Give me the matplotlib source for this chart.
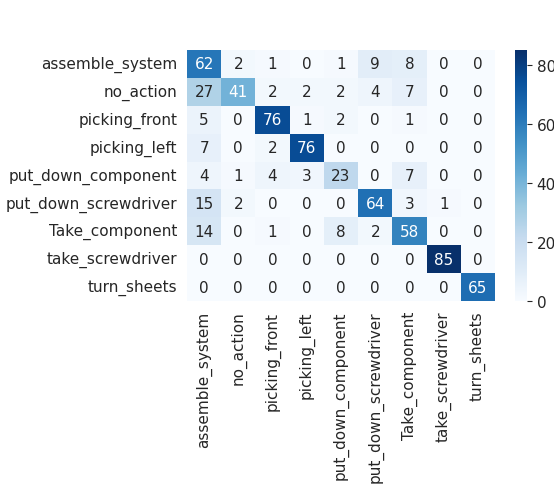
import matplotlib
matplotlib.use("Agg")
import matplotlib.pyplot as plt
import numpy as np
import seaborn as sns

labels = ["assemble_system", "no_action", "picking_front", "picking_left",
          "put_down_component", "put_down_screwdriver", "Take_component",
          "take_screwdriver", "turn_sheets"]

row_assemble_system = [62, 2, 1, 0, 1, 9, 8, 0, 0]
row_no_action = [27, 41, 2, 2, 2, 4, 7, 0, 0]
row_picking_front = [5, 0, 76, 1, 2, 0, 1, 0, 0]
row_picking_left = [7, 0, 2, 76, 0, 0, 0, 0, 0]
row_put_down_component = [4, 1, 4, 3, 23, 0, 7, 0, 0]
row_put_down_screwdriver = [15, 2, 0, 0, 0, 64, 3, 1, 0]
row_take_component = [14, 0, 1, 0, 8, 2, 58, 0, 0]
row_take_screwdriver = [0, 0, 0, 0, 0, 0, 0, 85, 0]
row_turn_sheets = [0, 0, 0, 0, 0, 0, 0, 0, 65]

cm = np.array([row_assemble_system, row_no_action, row_picking_front,
               row_picking_left, row_put_down_component,
               row_put_down_screwdriver, row_take_component,
               row_take_screwdriver, row_turn_sheets])

text_color = "#262626"
plt.rcParams["font.family"] = ["DejaVu Sans"]
plt.rcParams["text.color"] = text_color
plt.rcParams["xtick.color"] = text_color
plt.rcParams["ytick.color"] = text_color

fig = plt.figure(figsize=(5.54, 4.85), dpi=100)
ax = fig.add_axes([0.3375, 0.3773, 0.556, 0.5175])
cax = fig.add_axes([0.9296, 0.3773, 0.0217, 0.5175])

sns.heatmap(cm, annot=True, fmt="d", cmap="Blues", ax=ax, cbar_ax=cax,
            xticklabels=labels, yticklabels=labels,
            annot_kws={"fontsize": 11})

ax.tick_params(axis="both", length=0, labelsize=11, pad=7)
ax.set_xticklabels(labels, rotation=90)
ax.set_yticklabels(labels, rotation=0)
cax.tick_params(labelsize=11, length=3.5, color=text_color)
cax.set_yticks([0, 20, 40, 60, 80])
for s in cax.spines.values():
    s.set_visible(False)

fig.savefig("out.png", dpi=100)
